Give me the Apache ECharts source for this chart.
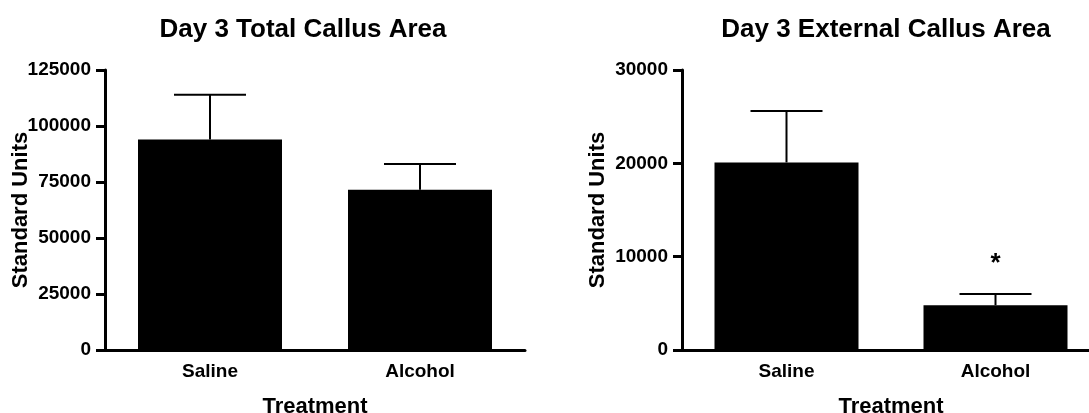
<!DOCTYPE html>
<html>
<head>
<meta charset="utf-8">
<script src="https://cdn.jsdelivr.net/npm/echarts@6/dist/echarts.min.js"></script>
<style>
  html, body { margin: 0; padding: 0; background: #fff; }
  #chart { width: 1089px; height: 413px; }
</style>
</head>
<body>
<div id="chart"></div>
<script>
// Treatment groups shared by both panels
const categories = ['Saline', 'Alcohol'];

// Day 3 total callus area: mean and SEM
const totalMean = [94000, 71500];
const totalSem = [20000, 11500];

// Day 3 external callus area: mean and SEM
const externalMean = [20100, 4800];
const externalSem = [5500, 1200];
const externalSig = ['', '*'];

// Axis ticks
const totalTicks = { min: 0, max: 125000, interval: 25000 };
const externalTicks = { min: 0, max: 30000, interval: 10000 };

const FONT = '"Liberation Sans", Arial, sans-serif';

function errorData(mean, sem, sig) {
  return mean.map((m, i) => [i, m, m + sem[i], sig ? sig[i] : '']);
}

// Upward-only error bar with a cap, plus an optional significance mark
function renderError(params, api) {
  const top = api.coord([api.value(0), api.value(2)]);
  const base = api.coord([api.value(0), api.value(1)]);
  const cap = 36;
  const children = [
    { type: 'line', shape: { x1: top[0], y1: base[1], x2: top[0], y2: top[1] },
      style: { stroke: '#000', lineWidth: 2 } },
    { type: 'line', shape: { x1: top[0] - cap, y1: top[1], x2: top[0] + cap, y2: top[1] },
      style: { stroke: '#000', lineWidth: 2 } }
  ];
  const mark = api.value(3);
  if (mark) {
    children.push({ type: 'text', x: top[0], y: top[1] - 30,
      style: { text: mark, font: 'bold 26px ' + FONT, fill: '#000', align: 'center', verticalAlign: 'middle' } });
  }
  return { type: 'group', children };
}

function xAxisFor(gridIndex) {
  return {
    type: 'category', gridIndex, data: categories,
    name: 'Treatment', nameLocation: 'middle', nameGap: 46, nameMoveOverlap: false,
    nameTextStyle: { fontFamily: FONT, fontWeight: 'bold', fontSize: 22, color: '#000' },
    axisLine: { lineStyle: { color: '#000', width: 3 } },
    axisTick: { alignWithLabel: true, length: 8, lineStyle: { color: '#000', width: 3 } },
    axisLabel: { fontFamily: FONT, fontWeight: 'bold', fontSize: 19, color: '#000', margin: 12 }
  };
}

function yAxisFor(gridIndex, ticks) {
  return {
    type: 'value', gridIndex, min: ticks.min, max: ticks.max, interval: ticks.interval,
    name: 'Standard Units', nameLocation: 'middle', nameGap: 73, nameMoveOverlap: false,
    nameTextStyle: { fontFamily: FONT, fontWeight: 'bold', fontSize: 22, color: '#000' },
    axisLine: { show: true, lineStyle: { color: '#000', width: 3 } },
    axisTick: { show: true, length: 9, lineStyle: { color: '#000', width: 3 } },
    axisLabel: { fontFamily: FONT, fontWeight: 'bold', fontSize: 19, color: '#000', margin: 14,
      formatter: v => String(v) },
    splitLine: { show: false }
  };
}

const chart = echarts.init(document.getElementById('chart'), null, { renderer: 'canvas' });
chart.setOption({
  animation: false,
  backgroundColor: '#fff',
  title: [
    { text: 'Day 3 Total Callus Area', left: 298, top: 12, textAlign: 'center',
      textStyle: { fontFamily: FONT, fontWeight: 'bold', fontSize: 26, color: '#000' } },
    { text: 'Day 3 External Callus Area', left: 881, top: 12, textAlign: 'center',
      textStyle: { fontFamily: FONT, fontWeight: 'bold', fontSize: 26, color: '#000' } }
  ],
  grid: [
    { left: 105, top: 70, width: 420, height: 280, outerBoundsMode: 'none', containLabel: false },
    { left: 682, top: 70, width: 418, height: 280, outerBoundsMode: 'none', containLabel: false }
  ],
  xAxis: [xAxisFor(0), xAxisFor(1)],
  yAxis: [yAxisFor(0, totalTicks), yAxisFor(1, externalTicks)],
  series: [
    { type: 'bar', xAxisIndex: 0, yAxisIndex: 0, data: totalMean, barWidth: 144,
      itemStyle: { color: '#000' } },
    { type: 'custom', xAxisIndex: 0, yAxisIndex: 0, renderItem: renderError,
      data: errorData(totalMean, totalSem), z: 3 },
    { type: 'bar', xAxisIndex: 1, yAxisIndex: 1, data: externalMean, barWidth: 144,
      itemStyle: { color: '#000' } },
    { type: 'custom', xAxisIndex: 1, yAxisIndex: 1, renderItem: renderError,
      data: errorData(externalMean, externalSem, externalSig), z: 3 }
  ]
});
</script>
</body>
</html>
